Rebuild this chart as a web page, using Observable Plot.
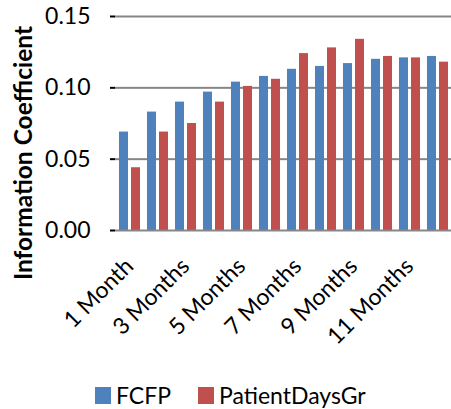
<!DOCTYPE html>
<html>
<head>
<meta charset="utf-8">
<script src="https://cdn.jsdelivr.net/npm/d3@7"></script>
<script src="https://cdn.jsdelivr.net/npm/@observablehq/plot@0.6"></script>
<style>
  body { margin: 0; background: #fff; font-family: Lato, "Open Sans", sans-serif; }
  #chart svg { display: block; overflow: visible; }
  #legend { display: flex; align-items: center; height: 34px; margin-top: 18px; padding-left: 95px;
            font-family: Lato, sans-serif; font-size: 23px; color: #000; }
  #legend .item { display: flex; align-items: center; }
  #legend .sw { width: 16px; height: 17px; margin-right: 5px; }
  #legend .item + .item { margin-left: 27px; }
</style>
</head>
<body>
<div id="chart"></div>
<div id="legend"></div>
<script>
// Forecast horizons (categories)
const horizons = ["1 Month", "2 Months", "3 Months", "4 Months", "5 Months", "6 Months",
                  "7 Months", "8 Months", "9 Months", "10 Months", "11 Months", "12 Months"];
// Horizons that carry a tick label
const labeledHorizons = ["1 Month", "3 Months", "5 Months", "7 Months", "9 Months", "11 Months"];

// Information coefficient per horizon
const fcfp          = [0.069, 0.083, 0.090, 0.097, 0.104, 0.108, 0.113, 0.115, 0.117, 0.120, 0.121, 0.122];
const patientDaysGr = [0.044, 0.069, 0.075, 0.090, 0.101, 0.106, 0.124, 0.128, 0.134, 0.122, 0.121, 0.118];

const seriesNames  = ["FCFP", "PatientDaysGr"];
const seriesColors = ["#4F81BD", "#C0504D"];
const yTicks = [0, 0.05, 0.10, 0.15];
const yTitle = "Information Coefficient";

const rows = horizons.flatMap((h, i) => [
  {horizon: h, series: seriesNames[0], value: fcfp[i]},
  {horizon: h, series: seriesNames[1], value: patientDaysGr[i]}
]);

const chart = Plot.plot({
  width: 451,
  height: 360,
  marginLeft: 114,
  marginRight: 0,
  marginTop: 16,
  marginBottom: 130,
  style: {fontFamily: "Lato, sans-serif", fontSize: "23px", color: "#000", background: "#fff"},
  fx: {domain: horizons, padding: 0, label: null, tickSize: 0, tickRotate: -45, tickPadding: 32, ticks: labeledHorizons},
  x: {domain: seriesNames, paddingInner: 0.29, paddingOuter: 0.31, axis: null},
  y: {domain: [0, 0.15], ticks: yTicks, tickFormat: d3.format(".2f"), tickSize: 5, tickPadding: 20, label: null},
  color: {domain: seriesNames, range: seriesColors},
  marks: [
    Plot.ruleY(yTicks.slice(1), {stroke: "#868686", strokeWidth: 2}),
    Plot.barY(rows, {fx: "horizon", x: "series", y: "value", fill: "series"}),
    Plot.ruleY([0], {stroke: "#868686", strokeWidth: 2})
  ]
});
document.getElementById("chart").append(chart);

// Y-axis tick marks in grey, like the gridlines
d3.select(chart).selectAll('[aria-label="y-axis tick"]')
  .attr("stroke", "#868686").attr("stroke-width", 2);

// Vertical axis title, centred on the chart area
d3.select(chart).append("text")
  .attr("transform", "translate(22,153) rotate(-90)")
  .attr("text-anchor", "middle")
  .attr("dominant-baseline", "central")
  .attr("font-weight", "bold")
  .attr("font-size", 24.5)
  .attr("fill", "#000")
  .text(yTitle);

// Legend
const legend = d3.select("#legend");
seriesNames.forEach((name, i) => {
  const item = legend.append("div").attr("class", "item");
  item.append("div").attr("class", "sw").style("background", seriesColors[i]);
  item.append("span").text(name);
});
</script>
</body>
</html>
